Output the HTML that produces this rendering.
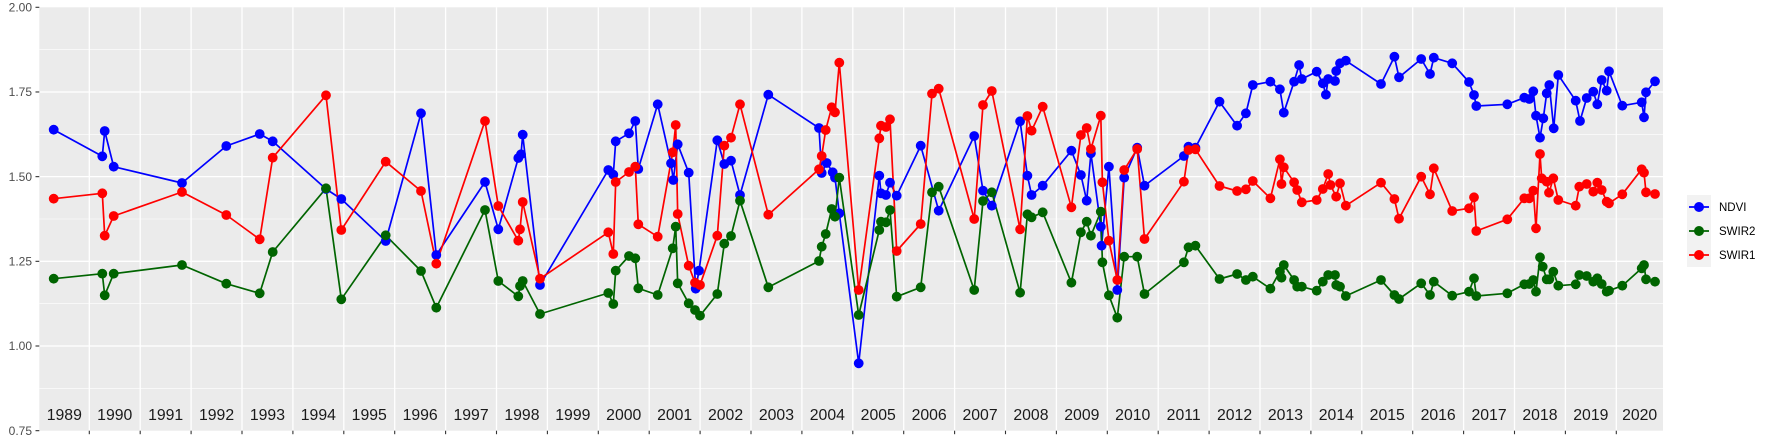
<!DOCTYPE html>
<html><head><meta charset="utf-8"><style>
html,body{margin:0;padding:0;background:#fff;}
svg{display:block;}
</style></head><body>
<svg id="s" xmlns="http://www.w3.org/2000/svg" width="1773" height="442" viewBox="0 0 1773 442" font-family="Liberation Sans, sans-serif">
<rect x="39.3" y="7.3" width="1623.7" height="423.4" fill="#EBEBEB"/>
<g id="grid"></g>
<g id="lines"></g>
<g id="pts"></g>
<g id="txt"></g>
<rect x="1687" y="195" width="24" height="72" fill="#F2F2F2"/>
<line x1="1689" y1="207" x2="1709" y2="207" stroke="#0000FF" stroke-width="1.7"/>
<circle cx="1699" cy="207" r="5" fill="#0000FF"/>
<line x1="1689" y1="231" x2="1709" y2="231" stroke="#006400" stroke-width="1.7"/>
<circle cx="1699" cy="231" r="5" fill="#006400"/>
<line x1="1689" y1="255" x2="1709" y2="255" stroke="#FF0000" stroke-width="1.7"/>
<circle cx="1699" cy="255" r="5" fill="#FF0000"/>
<text x="1719" y="211" font-size="11.5" fill="#000">NDVI</text>
<text x="1719" y="235" font-size="11.5" fill="#000">SWIR2</text>
<text x="1719" y="259" font-size="11.5" fill="#000">SWIR1</text>
</svg>
<script>
var NS="http://www.w3.org/2000/svg";
function el(p,t,a,txt){var e=document.createElementNS(NS,t);for(var k in a)e.setAttribute(k,a[k]);if(txt!==undefined)e.textContent=txt;document.getElementById(p).appendChild(e);return e;}
var L=39.3,R=1663,T=7.3,B=430.7;
function yv(v){return 7.3+(2-v)*338.7;}
// grid
[0.875,1.125,1.375,1.625,1.875].forEach(function(v){el("grid","line",{x1:L,x2:R,y1:yv(v),y2:yv(v),stroke:"#fff","stroke-width":0.6});});
[1.0,1.25,1.5,1.75].forEach(function(v){el("grid","line",{x1:L,x2:R,y1:yv(v),y2:yv(v),stroke:"#fff","stroke-width":1.3});});
for(var k=0;k<=30;k++){var x=89.3+50.9*k;el("grid","line",{x1:x,x2:x,y1:T,y2:B,stroke:"#fff","stroke-width":1.3});
 el("grid","line",{x1:x,x2:x,y1:B,y2:B+3.5,stroke:"#333","stroke-width":1.1});}
[2.0,1.75,1.5,1.25,1.0,0.75].forEach(function(v){var y=yv(v);
 el("grid","line",{x1:35.5,x2:L,y1:y,y2:y,stroke:"#333","stroke-width":1.1});
 el("txt","text",{x:32,y:y+4.2,"font-size":12,fill:"#4D4D4D","text-anchor":"end"},v.toFixed(2));});
for(var k=0;k<32;k++){var cx=(k==0)?(L+89.3)/2:(k==31?(89.3+50.9*30+R)/2:89.3+50.9*(k-0.5));
 el("txt","text",{x:cx,y:420,"font-size":15.8,fill:"#1a1a1a","text-anchor":"middle"},String(1989+k));}
function conv(z,arr){var o=[0,480,960,1480][z],f=(z==2)?2.613:3;return arr.map(function(p){return [o+p[0]/f,p[1]/3];});}
var blue=[].concat(
conv(0,[[161,389],[307,469],[314,393],[341,500],[546,549],[679,438],[779,402],[818,424],[978,567],[1024,597],[1157,723],[1263,340],[1309,765]]),
conv(1,[[15,546],[55,688],[115,474],[123,463],[128,404],[180,855],[385,510],[400,524],[407,424],[447,400],[466,363],[475,507],[533,313],[573,490],[580,540],[593,433],[626,518],[647,866],[657,812],[712,421],[733,492],[753,482],[780,585],[865,284],[1017,384],[1025,519],[1040,489],[1058,517],[1065,533],[1078,640],[1136,1090],[1198,527],[1203,580],[1218,585],[1230,548],[1250,587],[1322,437],[1376,632]]),
conv(2,[[37,408],[60,572],[83,617],[157,364],[176,527],[187,585],[216,557],[291,452],[316,525],[331,602],[342,460],[368,680],[370,737],[389,500],[411,870],[429,533],[463,443],[482,557],[585,468],[597,440],[615,443],[678,305],[724,377],[747,340],[765,255],[811,245],[836,268],[846,338],[873,245],[886,195],[893,237],[932,215],[948,250],[956,284],[962,237],[980,243],[983,213],[993,190],[1008,182],[1100,252],[1135,170],[1147,232],[1205,177],[1228,222],[1238,173],[1286,190],[1330,246],[1343,285],[1349,318]]),
conv(3,[[82,313],[133,293],[148,297],[160,274],[168,347],[180,413],[190,355],[200,280],[208,255],[221,385],[235,225],[287,302],[300,363],[320,294],[340,275],[352,313],[365,240],[380,272],[387,214],[427,317],[485,307],[492,352],[498,277],[525,244]]));
var red=[].concat(
conv(0,[[161,596],[307,580],[314,707],[341,648],[546,576],[679,645],[779,718],[818,473],[978,286],[1024,690],[1157,485],[1263,573],[1309,791]]),
conv(1,[[15,363],[55,618],[115,722],[120,688],[128,606],[180,836],[385,697],[400,762],[407,546],[447,516],[466,500],[475,673],[533,710],[578,457],[587,375],[593,642],[626,797],[645,848],[660,855],[712,707],[733,437],[753,413],[780,313],[865,644],[1017,508],[1025,468],[1037,390],[1055,322],[1065,337],[1078,188],[1136,870],[1198,415],[1203,377],[1218,381],[1230,358],[1250,753],[1322,672],[1356,281],[1376,266]]),
conv(2,[[37,657],[60,315],[83,273],[157,688],[176,348],[187,392],[216,320],[291,622],[316,405],[331,384],[342,447],[368,347],[372,547],[389,722],[411,840],[429,510],[463,447],[482,717],[585,545],[597,450],[615,448],[678,558],[724,573],[747,568],[765,543],[811,595],[836,478],[840,552],[846,502],[873,547],[881,570],[893,607],[932,600],[948,567],[962,522],[968,555],[983,590],[993,550],[1008,617],[1100,548],[1135,597],[1147,656],[1205,530],[1228,583],[1238,505],[1286,633],[1330,625],[1343,592],[1349,693]]),
conv(3,[[82,658],[133,595],[148,595],[160,572],[168,685],[180,462],[185,535],[200,545],[207,578],[220,535],[235,600],[287,617],[298,560],[320,552],[340,575],[352,548],[365,570],[380,605],[387,610],[427,583],[485,508],[492,518],[498,577],[525,582]]));
var green=[].concat(
conv(0,[[161,836],[307,821],[314,886],[341,821],[546,795],[679,851],[779,880],[818,756],[978,565],[1024,898],[1157,706],[1263,813],[1309,923]]),
conv(1,[[15,630],[55,843],[115,889],[120,858],[128,843],[180,942],[385,879],[400,912],[407,812],[447,768],[466,775],[475,865],[533,885],[578,745],[587,680],[593,850],[626,910],[645,930],[660,947],[712,882],[733,731],[753,708],[780,602],[865,862],[1017,783],[1025,740],[1037,702],[1055,627],[1065,650],[1078,533],[1136,945],[1198,690],[1203,665],[1218,667],[1230,630],[1250,890],[1322,862],[1356,577],[1376,560]]),
conv(2,[[37,870],[60,603],[83,577],[157,878],[176,643],[187,652],[216,637],[291,848],[316,697],[331,665],[342,707],[368,635],[372,787],[389,886],[411,953],[429,770],[463,770],[482,882],[585,787],[597,742],[615,737],[678,837],[724,822],[747,840],[765,830],[811,866],[836,815],[840,833],[846,795],[873,840],[881,860],[893,860],[932,872],[948,845],[962,825],[980,825],[983,855],[993,860],[1008,888],[1100,840],[1135,885],[1147,897],[1205,850],[1228,885],[1238,845],[1286,887],[1330,875],[1343,835],[1349,888]]),
conv(3,[[82,880],[133,853],[148,852],[160,840],[168,875],[180,772],[188,800],[200,838],[208,838],[220,815],[235,857],[287,853],[298,825],[320,828],[340,845],[352,835],[365,852],[380,875],[387,872],[427,857],[485,805],[492,795],[498,838],[525,845]]));
var series=[[blue,"#0000FF"],[green,"#006400"],[red,"#FF0000"]];
series.forEach(function(s){el("lines","polyline",{points:s[0].map(function(p){return p[0].toFixed(1)+","+p[1].toFixed(1);}).join(" "),fill:"none",stroke:s[1],"stroke-width":1.7,"stroke-linejoin":"round"});});
series.forEach(function(s){s[0].forEach(function(p){el("pts","circle",{cx:p[0].toFixed(1),cy:p[1].toFixed(1),r:4.9,fill:s[1]});});});
</script>
</body></html>
